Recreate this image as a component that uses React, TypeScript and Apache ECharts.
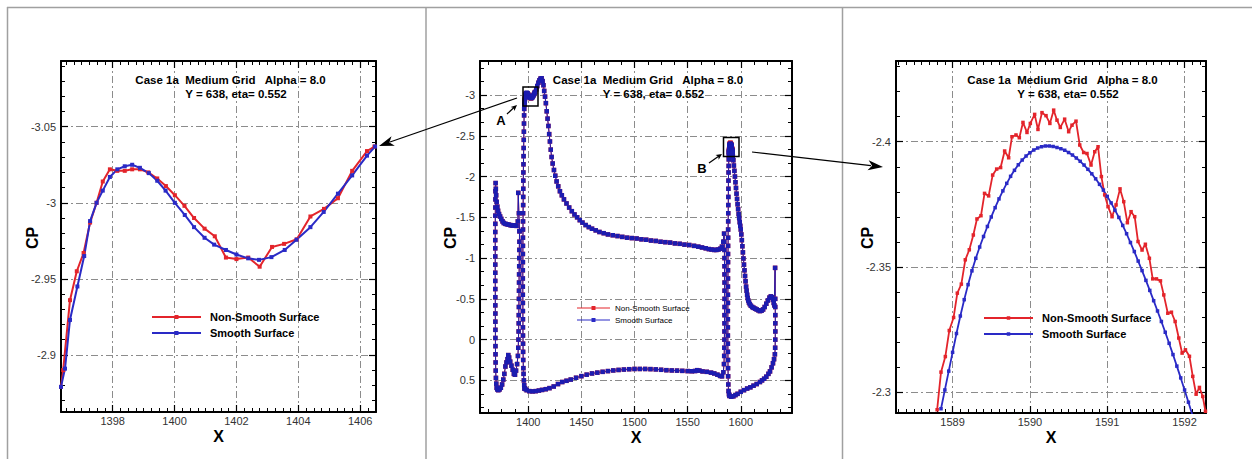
import React, { useEffect, useRef } from "react";
import * as echarts from "echarts";

// ---------------- Panel A (left zoom, box A) ----------------
const aRedX = [1396.33, 1396.40, 1396.62, 1396.84, 1397.06, 1397.27, 1397.48, 1397.68, 1397.91, 1398.15, 1398.39, 1398.63, 1398.88, 1399.15, 1399.44, 1399.72, 1400.01, 1400.32, 1400.63, 1400.97, 1401.30, 1401.66, 1402.00, 1402.38, 1402.75, 1403.15, 1403.54, 1403.95, 1404.39, 1404.83, 1405.28, 1405.74, 1406.22, 1406.46];
const aRedCp = [-2.879, -2.890, -2.936, -2.955, -2.967, -2.987, -3.000, -3.014, -3.022, -3.021, -3.021, -3.022, -3.022, -3.020, -3.016, -3.011, -3.005, -2.998, -2.990, -2.983, -2.978, -2.964, -2.963, -2.964, -2.958, -2.971, -2.973, -2.976, -2.991, -2.996, -3.003, -3.021, -3.034, -3.037];
const aBlueX = [1396.33, 1396.46, 1396.62, 1396.86, 1397.08, 1397.27, 1397.48, 1397.68, 1397.91, 1398.15, 1398.39, 1398.63, 1398.88, 1399.17, 1399.44, 1399.71, 1400.01, 1400.33, 1400.63, 1400.97, 1401.28, 1401.66, 1402.00, 1402.38, 1402.73, 1403.13, 1403.56, 1403.94, 1404.39, 1404.82, 1405.28, 1405.74, 1406.22, 1406.48];
const aBlueCp = [-2.879, -2.891, -2.923, -2.945, -2.965, -2.988, -3.000, -3.008, -3.017, -3.022, -3.024, -3.025, -3.023, -3.0195, -3.0145, -3.008, -3.000, -2.992, -2.984, -2.977, -2.9725, -2.969, -2.966, -2.9635, -2.9625, -2.9643, -2.969, -2.9757, -2.984, -2.994, -3.006, -3.018, -3.031, -3.037];

// ---------------- Panel B (right zoom, box B) ----------------
const bRedX = [1588.80, 1588.85, 1588.906, 1588.957, 1589.013, 1589.061, 1589.113, 1589.164, 1589.216, 1589.268, 1589.315, 1589.367, 1589.413, 1589.466, 1589.518, 1589.570, 1589.621, 1589.673, 1589.725, 1589.768, 1589.820, 1589.863, 1589.910, 1589.962, 1590.005, 1590.061, 1590.104, 1590.156, 1590.208, 1590.258, 1590.307, 1590.350, 1590.393, 1590.449, 1590.501, 1590.544, 1590.596, 1590.644, 1590.695, 1590.738, 1590.790, 1590.838, 1590.881, 1590.924, 1590.967, 1591.010, 1591.062, 1591.114, 1591.165, 1591.213, 1591.260, 1591.308, 1591.355, 1591.398, 1591.450, 1591.493, 1591.545, 1591.588, 1591.636, 1591.688, 1591.731, 1591.783, 1591.830, 1591.878, 1591.925, 1591.968, 1592.011, 1592.063, 1592.106, 1592.149, 1592.192, 1592.235, 1592.270];
const bRedCp = [-2.2931, -2.3081, -2.3143, -2.3247, -2.3299, -2.3396, -2.3432, -2.3529, -2.3569, -2.3628, -2.3692, -2.3705, -2.3794, -2.3784, -2.3867, -2.3891, -2.3897, -2.3963, -2.3936, -2.4020, -2.4027, -2.4016, -2.4077, -2.4037, -2.4073, -2.4109, -2.4049, -2.4116, -2.4104, -2.4073, -2.4126, -2.4086, -2.4057, -2.4090, -2.4040, -2.4066, -2.4082, -2.3987, -2.3957, -2.3953, -2.3907, -2.3960, -2.3980, -2.3861, -2.3788, -2.3741, -2.3701, -2.3748, -2.3812, -2.3761, -2.3677, -2.3721, -2.3701, -2.3602, -2.3568, -2.3591, -2.3535, -2.3453, -2.3453, -2.3445, -2.3389, -2.3316, -2.3320, -2.3283, -2.3217, -2.3157, -2.3170, -2.3144, -2.3064, -2.2993, -2.3020, -2.2984, -2.2925];
const bBlueX = [1588.85, 1588.90, 1588.95, 1589.00, 1589.05, 1589.10, 1589.15, 1589.20, 1589.25, 1589.30, 1589.35, 1589.40, 1589.45, 1589.50, 1589.55, 1589.60, 1589.65, 1589.70, 1589.75, 1589.80, 1589.85, 1589.90, 1589.95, 1590.00, 1590.05, 1590.10, 1590.15, 1590.20, 1590.25, 1590.30, 1590.35, 1590.40, 1590.45, 1590.50, 1590.55, 1590.60, 1590.65, 1590.70, 1590.75, 1590.80, 1590.85, 1590.90, 1590.95, 1591.00, 1591.05, 1591.10, 1591.15, 1591.20, 1591.25, 1591.30, 1591.35, 1591.40, 1591.45, 1591.50, 1591.55, 1591.60, 1591.65, 1591.70, 1591.75, 1591.80, 1591.85, 1591.90, 1591.95, 1592.00, 1592.05, 1592.10, 1592.15];
const bBlueCp = [-2.2935, -2.3010, -2.3085, -2.3160, -2.3235, -2.3305, -2.3370, -2.3430, -2.3485, -2.3535, -2.3580, -2.3622, -2.3662, -2.3700, -2.3737, -2.3772, -2.3804, -2.3834, -2.3862, -2.3886, -2.3908, -2.3927, -2.3943, -2.3956, -2.3967, -2.3975, -2.3980, -2.3983, -2.3983, -2.3981, -2.3977, -2.3972, -2.3966, -2.3957, -2.3947, -2.3935, -2.3922, -2.3907, -2.3890, -2.3872, -2.3852, -2.3830, -2.3807, -2.3782, -2.3756, -2.3727, -2.3698, -2.3666, -2.3633, -2.3598, -2.3562, -2.3524, -2.3486, -2.3447, -2.3407, -2.3366, -2.3325, -2.3283, -2.3240, -2.3196, -2.3151, -2.3105, -2.3058, -2.3010, -2.2961, -2.2911, -2.2860];

// ---------------- Full section (middle) ----------------
const slatX = [1391.8, 1391.2, 1390.6, 1390.2, 1389.0, 1387.5, 1386.0, 1384.5, 1383.0, 1381.5, 1380.0, 1378.5, 1377.0, 1375.8, 1374.6, 1373.5, 1372.5, 1371.6, 1370.9, 1370.3, 1369.8, 1369.5, 1369.3,
  1369.15, 1369.1, 1369.05, 1369.0, 1369.0, 1368.95, 1368.95, 1368.95, 1368.95, 1368.95, 1368.95, 1368.95, 1369.0, 1369.0, 1369.0, 1369.05, 1369.05, 1369.1, 1369.1, 1369.15, 1369.2, 1369.3, 1369.4, 1369.6, 1369.9, 1370.3, 1370.8,
  1371.8, 1373.0, 1374.2, 1375.4, 1376.5, 1377.5, 1378.5, 1379.5, 1380.5, 1381.2, 1382.0, 1383.0, 1384.2, 1385.4, 1386.5, 1387.5, 1388.5, 1389.5, 1390.3,
  1390.6, 1390.8, 1390.95, 1391.05, 1391.1, 1391.2, 1391.25, 1391.3, 1391.35, 1391.4, 1391.5, 1391.55, 1391.6, 1391.7, 1391.8];
const slatCp = [-1.33, -1.55, -1.80, -1.45, -1.395, -1.40, -1.40, -1.40, -1.405, -1.41, -1.415, -1.42, -1.43, -1.45, -1.48, -1.51, -1.54, -1.58, -1.63, -1.69, -1.77, -1.85, -1.92,
  -1.82, -1.72, -1.62, -1.52, -1.42, -1.32, -1.22, -1.12, -1.02, -0.92, -0.82, -0.72, -0.62, -0.52, -0.42, -0.32, -0.22, -0.12, -0.02, 0.08, 0.18, 0.28, 0.38, 0.47, 0.54, 0.59, 0.61,
  0.62, 0.61, 0.59, 0.55, 0.49, 0.42, 0.33, 0.28, 0.24, 0.19, 0.22, 0.27, 0.32, 0.37, 0.42, 0.43, 0.38, 0.30, 0.20,
  0.10, 0.0, -0.1, -0.2, -0.3, -0.4, -0.5, -0.6, -0.7, -0.8, -0.9, -1.0, -1.1, -1.2, -1.33];

const mainLeX = [1396.6, 1396.2, 1395.9, 1395.6, 1395.4, 1395.25, 1395.15, 1395.1, 1395.05, 1395.0, 1395.0, 1394.95, 1394.95, 1394.9, 1394.9, 1394.9, 1394.9, 1394.95, 1394.95, 1395.0, 1395.0, 1395.05, 1395.1, 1395.15, 1395.2, 1395.25, 1395.3, 1395.35, 1395.4, 1395.5, 1395.6, 1395.7, 1395.8, 1395.9, 1396.0, 1396.1, 1396.2];
const mainLeCp = [0.60, 0.56, 0.50, 0.42, 0.35, 0.25, 0.15, 0.05, -0.05, -0.15, -0.25, -0.35, -0.45, -0.55, -0.65, -0.75, -0.85, -0.95, -1.05, -1.15, -1.25, -1.35, -1.45, -1.55, -1.65, -1.75, -1.85, -1.95, -2.05, -2.15, -2.25, -2.35, -2.45, -2.55, -2.65, -2.75, -2.83];
const mainRestX = [1407.5, 1408.5, 1409.5, 1410.5, 1411.5, 1412.6, 1413.5, 1414.3, 1415.0, 1415.8, 1416.6, 1417.4, 1418.2, 1419.0, 1419.7, 1420.4, 1421.2, 1422.0, 1423.0, 1424.2, 1425.4, 1426.7, 1428.2, 1429.8, 1431.6, 1433.6, 1436.0, 1438.5, 1441.0, 1443.5, 1446.0, 1448.5, 1451.0, 1454.0, 1457.0, 1460.0, 1463.5, 1467.0, 1471.0, 1475.0, 1479.5, 1484.0, 1488.5, 1493.0, 1497.5, 1502.0, 1506.5, 1511.0, 1515.5, 1520.0, 1524.5, 1529.0, 1533.5, 1538.0, 1542.5, 1547.0, 1551.5, 1556.0, 1560.0, 1563.5, 1567.0, 1570.0, 1572.5, 1575.0, 1577.0, 1579.0, 1580.8, 1582.3, 1583.5, 1584.3,
  1584.5, 1584.6, 1584.65, 1584.7, 1584.7, 1584.75, 1584.75, 1584.75, 1584.75, 1584.7, 1584.7, 1584.65, 1584.6, 1584.5, 1584.4, 1584.2, 1583.6,
  1582.3, 1580.5, 1578.0, 1575.0, 1572.0, 1568.0, 1564.0, 1561.0, 1559.0, 1557.0, 1554.0, 1550.0, 1545.0, 1540.0, 1535.0, 1530.0, 1525.0, 1520.0, 1515.0, 1510.0, 1505.0, 1500.0, 1495.0, 1490.0, 1485.0, 1480.0, 1475.0, 1470.0, 1465.0, 1460.0, 1455.0, 1450.0, 1445.0, 1440.0, 1436.0, 1432.0, 1428.0, 1424.0, 1420.0, 1416.5, 1413.0, 1410.0, 1407.0, 1404.0, 1401.0, 1398.5, 1397.3, 1396.6];
const mainRestCp = [-3.07, -3.11, -3.15, -3.18, -3.20, -3.205, -3.17, -3.12, -3.05, -2.98, -2.90, -2.80, -2.71, -2.62, -2.52, -2.43, -2.33, -2.24, -2.16, -2.08, -2.01, -1.94, -1.88, -1.82, -1.77, -1.72, -1.67, -1.62, -1.575, -1.535, -1.50, -1.465, -1.435, -1.405, -1.38, -1.36, -1.34, -1.32, -1.305, -1.29, -1.28, -1.27, -1.26, -1.25, -1.245, -1.24, -1.23, -1.225, -1.215, -1.21, -1.20, -1.195, -1.19, -1.18, -1.175, -1.165, -1.16, -1.15, -1.14, -1.13, -1.12, -1.11, -1.105, -1.10, -1.10, -1.105, -1.115, -1.14, -1.20, -1.30,
  -1.2, -1.1, -1.0, -0.9, -0.8, -0.7, -0.6, -0.5, -0.4, -0.3, -0.2, -0.1, 0.0, 0.1, 0.2, 0.3, 0.40,
  0.45, 0.445, 0.43, 0.415, 0.405, 0.395, 0.39, 0.38, 0.375, 0.385, 0.388, 0.386, 0.383, 0.38, 0.378, 0.375, 0.37, 0.365, 0.362, 0.36, 0.36, 0.36, 0.363, 0.367, 0.372, 0.378, 0.386, 0.395, 0.405, 0.415, 0.43, 0.448, 0.468, 0.49, 0.505, 0.52, 0.545, 0.575, 0.595, 0.608, 0.617, 0.625, 0.632, 0.635, 0.632, 0.62, 0.605, 0.60];

const flapLeX = [1589.5, 1588.9, 1588.5, 1588.25, 1588.1, 1588.0, 1587.95, 1587.9, 1587.85, 1587.85, 1587.85, 1587.85, 1587.85, 1587.9, 1587.9, 1587.9, 1587.95, 1587.95, 1588.0, 1588.0, 1588.05, 1588.1, 1588.1, 1588.15, 1588.2, 1588.25, 1588.3, 1588.35, 1588.4, 1588.5, 1588.6, 1588.7, 1588.78];
const flapLeCp = [0.69, 0.67, 0.63, 0.55, 0.45, 0.35, 0.25, 0.15, 0.05, -0.05, -0.15, -0.25, -0.35, -0.45, -0.55, -0.65, -0.75, -0.85, -0.95, -1.05, -1.15, -1.25, -1.35, -1.45, -1.55, -1.65, -1.75, -1.85, -1.95, -2.05, -2.13, -2.21, -2.26];
const flapRestX = [1592.5, 1593.0, 1593.5, 1594.0, 1594.5, 1595.0, 1595.5, 1596.0, 1596.5, 1597.0, 1597.5, 1598.0, 1598.5, 1599.0, 1599.5, 1600.0, 1600.5, 1601.0, 1601.5, 1602.0, 1602.5, 1603.0, 1603.5, 1604.0, 1604.5, 1605.0, 1605.5, 1606.0, 1606.5, 1607.0, 1607.7, 1608.5, 1609.5, 1610.7, 1612.0, 1613.5, 1615.0, 1616.5, 1618.0, 1619.5, 1621.0, 1622.5, 1624.0, 1625.5, 1627.0, 1628.3, 1629.4, 1630.3, 1631.0, 1631.6,
  1632.3, 1632.4, 1632.45, 1632.5, 1632.5, 1632.5, 1632.45, 1632.35, 1632.1,
  1631.3, 1630.3, 1629.0, 1627.5, 1626.0, 1624.0, 1622.0, 1620.0, 1618.0, 1615.0, 1612.0, 1609.0, 1606.0, 1603.0, 1600.0, 1597.0, 1595.0, 1593.0, 1591.0, 1589.5];
const flapRestCp = [-2.25, -2.20, -2.135, -2.07, -2.0, -1.93, -1.86, -1.79, -1.725, -1.66, -1.60, -1.54, -1.49, -1.44, -1.395, -1.35, -1.29, -1.22, -1.145, -1.07, -0.995, -0.92, -0.85, -0.78, -0.715, -0.65, -0.60, -0.55, -0.51, -0.48, -0.455, -0.435, -0.415, -0.40, -0.39, -0.38, -0.37, -0.36, -0.35, -0.355, -0.37, -0.40, -0.44, -0.48, -0.515, -0.53, -0.52, -0.49, -0.45, -0.42,
  -0.88, -0.50, -0.40, -0.30, -0.20, -0.10, 0.0, 0.10, 0.18,
  0.24, 0.29, 0.34, 0.39, 0.42, 0.455, 0.48, 0.50, 0.52, 0.545, 0.565, 0.585, 0.60, 0.62, 0.64, 0.665, 0.68, 0.695, 0.70, 0.69];

// ---------------- axes ----------------
const aXTicks = [1398, 1400, 1402, 1404, 1406];
const aYTicks = [-3.05, -3, -2.95, -2.9];
const fullXTicks = [1400, 1450, 1500, 1550, 1600];
const fullYTicks = [-3, -2.5, -2, -1.5, -1, -0.5, 0, 0.5];
const bXTicks = [1589, 1590, 1591, 1592];
const bYTicks = [-2.4, -2.35, -2.3];

const TITLE1 = "Case 1a  Medium Grid   Alpha = 8.0";
const TITLE2 = "Y = 638, eta= 0.552";
const NAME_RED = "Non-Smooth Surface";
const NAME_BLUE = "Smooth Surface";
const RED = "#e3242b";
const BLUE = "#2a2ac6";
const BLUE_MID = "#1c1cb0";
const FONT = '"Liberation Sans", Arial, Helvetica, sans-serif';

const pairs = (xs: number[], ys: number[]) => xs.map((x, i) => [x, ys[i]]);

function minorValues(min: number, max: number, step: number) {
  const out: number[] = [];
  const start = Math.ceil(min / step - 1e-9);
  for (let k = start; k * step <= max + 1e-9; k++) out.push(Math.round(k * step * 1e6) / 1e6);
  return out;
}

const panels = [
  { grid: { left: 61, top: 61, width: 315, height: 351 }, x: [1396.33, 1406.51], y: [-3.0932, -2.8625], xMajor: aXTicks, yMajor: aYTicks, xStep: 0.25, yStep: 0.01 },
  { grid: { left: 480, top: 61, width: 312, height: 352 }, x: [1354.6, 1648.2], y: [-3.417, 0.9], xMajor: fullXTicks, yMajor: fullYTicks, xStep: 12.5, yStep: 0.5 / 3 },
  { grid: { left: 896, top: 61, width: 310, height: 352 }, x: [1588.268, 1592.277], y: [-2.4322, -2.2918], xMajor: bXTicks, yMajor: bYTicks, xStep: 0.1, yStep: 0.01 },
];

function buildOption() {
  const grids: any[] = [];
  const xAxes: any[] = [];
  const yAxes: any[] = [];
  const labelStyle = { color: "#333", fontSize: 11, fontFamily: FONT, formatter: (v: number) => String(Math.round(v * 1000) / 1000) };
  const gridLine = { show: true, lineStyle: { color: "#8c8c8c", width: 1, type: [7, 3, 2, 3] } };
  const frame = { show: true, onZero: false, lineStyle: { color: "#000", width: 2 } };
  const noLine = { show: false, onZero: false };
  panels.forEach((p, g) => {
    grids.push({ ...p.grid, containLabel: false, outerBoundsMode: "none", show: false });
    const xMinor = minorValues(p.x[0], p.x[1], p.xStep);
    const yMinor = minorValues(p.y[0], p.y[1], p.yStep);
    const xb = { type: "value", gridIndex: g, min: p.x[0], max: p.x[1] };
    const yb = { type: "value", gridIndex: g, min: p.y[0], max: p.y[1], inverse: true };
    const majT = (vals: number[]) => ({ show: true, inside: true, length: 7, customValues: vals, lineStyle: { color: "#000", width: 1.2 } });
    const minT = (vals: number[]) => ({ show: true, inside: true, length: 4, customValues: vals, lineStyle: { color: "#000", width: 1 } });
    xAxes.push(
      { ...xb, position: "bottom", axisLine: frame, axisTick: majT(p.xMajor), axisLabel: { show: true, customValues: p.xMajor, margin: 3, ...labelStyle }, splitLine: gridLine },
      { ...xb, position: "bottom", axisLine: noLine, axisTick: minT(xMinor), axisLabel: { show: false }, splitLine: { show: false } },
      { ...xb, position: "top", axisLine: frame, axisTick: majT(p.xMajor), axisLabel: { show: false }, splitLine: { show: false } },
      { ...xb, position: "top", axisLine: noLine, axisTick: minT(xMinor), axisLabel: { show: false }, splitLine: { show: false } }
    );
    yAxes.push(
      { ...yb, position: "left", axisLine: frame, axisTick: majT(p.yMajor), axisLabel: { show: true, customValues: p.yMajor, margin: 5, ...labelStyle }, splitLine: gridLine },
      { ...yb, position: "left", axisLine: noLine, axisTick: minT(yMinor), axisLabel: { show: false }, splitLine: { show: false } },
      { ...yb, position: "right", axisLine: frame, axisTick: majT(p.yMajor), axisLabel: { show: false }, splitLine: { show: false } },
      { ...yb, position: "right", axisLine: noLine, axisTick: minT(yMinor), axisLabel: { show: false }, splitLine: { show: false } }
    );
  });

  const zoomSeries = (name: string, color: string, data: number[][], idx: number, lw: number, ss: number) => ({
    name, type: "line", xAxisIndex: idx, yAxisIndex: idx, data, symbol: "rect", symbolSize: ss, clip: true,
    lineStyle: { color, width: lw }, itemStyle: { color }, emphasis: { disabled: true },
  });
  const midSeries = (name: string, color: string, data: number[][]) => ({
    name, type: "line", xAxisIndex: 4, yAxisIndex: 4, data, symbol: "rect", symbolSize: 4.5, clip: true,
    lineStyle: { color, width: 1 }, itemStyle: { color }, emphasis: { disabled: true },
  });

  const slat = pairs(slatX, slatCp);
  const mainLe = pairs(mainLeX, mainLeCp);
  const mainRest = pairs(mainRestX, mainRestCp);
  const flapLe = pairs(flapLeX, flapLeCp);
  const flapRest = pairs(flapRestX, flapRestCp);

  const series = [
    zoomSeries(NAME_RED, RED, pairs(aRedX, aRedCp), 0, 2, 4),
    zoomSeries(NAME_BLUE, BLUE, pairs(aBlueX, aBlueCp), 0, 2, 4),
    midSeries(NAME_RED, RED, slat),
    midSeries(NAME_RED, RED, [...mainLe, ...pairs(aRedX, aRedCp), ...mainRest]),
    midSeries(NAME_RED, RED, [...flapLe, ...pairs(bRedX, bRedCp), ...flapRest]),
    midSeries(NAME_BLUE, BLUE_MID, slat),
    midSeries(NAME_BLUE, BLUE_MID, [...mainLe, ...pairs(aBlueX, aBlueCp), ...mainRest]),
    midSeries(NAME_BLUE, BLUE_MID, [...flapLe, ...pairs(bBlueX, bBlueCp), ...flapRest]),
    zoomSeries(NAME_RED, RED, pairs(bRedX, bRedCp), 8, 1.8, 3.5),
    zoomSeries(NAME_BLUE, BLUE, pairs(bBlueX, bBlueCp), 8, 1.8, 3.5),
  ];

  const txt = (x: number, y: number, text: string, size: number, weight: string, align = "center", rotation = 0) => ({
    type: "text", x, y, rotation, z: 100,
    style: { text, fill: "#000", fontSize: size, fontWeight: weight, fontFamily: FONT, textAlign: align, align, textVerticalAlign: "middle", verticalAlign: "middle" },
  });
  const ln = (x1: number, y1: number, x2: number, y2: number, stroke: string, lineWidth: number) => ({
    type: "line", z: 100, shape: { x1, y1, x2, y2 }, style: { stroke, lineWidth },
  });
  const head = (fx: number, fy: number, tx: number, ty: number, L: number, W: number, notch: number) => {
    const dx = tx - fx, dy = ty - fy, len = Math.hypot(dx, dy);
    const ux = dx / len, uy = dy / len, px = -uy, py = ux;
    const bx = tx - ux * L, by = ty - uy * L;
    return {
      type: "polygon", z: 101,
      shape: { points: [[tx, ty], [bx + px * W, by + py * W], [tx - ux * (L - notch), ty - uy * (L - notch)], [bx - px * W, by - py * W]] },
      style: { fill: "#000" },
    };
  };
  const legend = (x1: number, x2: number, yR: number, yB: number, tx: number, lw: number, ms: number, fs: number, fw: string) => [
    ln(x1, yR, x2, yR, RED, lw),
    { type: "rect", z: 101, shape: { x: (x1 + x2) / 2 - ms / 2, y: yR - ms / 2, width: ms, height: ms }, style: { fill: RED } },
    ln(x1, yB, x2, yB, BLUE, lw),
    { type: "rect", z: 101, shape: { x: (x1 + x2) / 2 - ms / 2, y: yB - ms / 2, width: ms, height: ms }, style: { fill: BLUE } },
    txt(tx, yR, NAME_RED, fs, fw, "left"),
    txt(tx, yB, NAME_BLUE, fs, fw, "left"),
  ];

  const graphic = [
    ln(7, 7.5, 1252, 7.5, "#a0a0a0", 1.5),
    ln(7.5, 7, 7.5, 459, "#a0a0a0", 1.5),
    ln(426, 7, 426, 459, "#a0a0a0", 1.5),
    ln(842.5, 7, 842.5, 459, "#a0a0a0", 1.5),
    // titles
    txt(230.5, 80, TITLE1, 11.5, "bold"), txt(236, 94, TITLE2, 11.5, "bold"),
    txt(648, 80, TITLE1, 11.5, "bold"), txt(653.5, 94, TITLE2, 11.5, "bold"),
    txt(1062.5, 80, TITLE1, 11.5, "bold"), txt(1068, 94, TITLE2, 11.5, "bold"),
    // axis names
    txt(32, 238, "CP", 16, "bold", "center", Math.PI / 2),
    txt(450, 238, "CP", 16, "bold", "center", Math.PI / 2),
    txt(867, 238, "CP", 16, "bold", "center", Math.PI / 2),
    txt(218.5, 436, "X", 16, "bold"),
    txt(636, 437, "X", 16, "bold"),
    txt(1051, 437, "X", 16, "bold"),
    // legends
    ...legend(152, 201, 317, 333, 210, 2, 4, 11, "bold"),
    ...legend(577, 610, 308, 320, 615, 1, 4, 8, "normal"),
    ...legend(984, 1033, 318, 334, 1042, 2, 3.5, 11, "bold"),
    // boxes A, B
    { type: "rect", z: 101, shape: { x: 523, y: 87, width: 15, height: 19 }, style: { fill: "none", stroke: "#000", lineWidth: 1.5 } },
    { type: "rect", z: 101, shape: { x: 723.5, y: 137.5, width: 15.5, height: 19 }, style: { fill: "none", stroke: "#000", lineWidth: 1.5 } },
    txt(501, 120, "A", 13, "bold"),
    txt(702, 168, "B", 13, "bold"),
    ln(507, 114, 514, 107.5, "#000", 1.2), head(507, 114, 517, 105, 6, 2.8, 1.5),
    ln(709, 163, 719, 156, "#000", 1.2), head(709, 163, 722, 154, 6, 2.8, 1.5),
    // long arrows
    ln(517, 98, 390, 142, "#000", 1.2), head(517, 98, 379, 146, 15, 5, 4),
    ln(752, 152, 871, 165.6, "#000", 1.2), head(752, 152, 883, 167, 15, 5, 4),
  ];

  return {
    animation: false,
    backgroundColor: "#ffffff",
    grid: grids,
    xAxis: xAxes,
    yAxis: yAxes,
    series,
    graphic,
  };
}

export default function App() {
  const ref = useRef<HTMLDivElement>(null);
  useEffect(() => {
    const chart = echarts.init(ref.current as HTMLDivElement, null, { renderer: "svg" });
    chart.setOption(buildOption() as any);
    return () => chart.dispose();
  }, []);
  return (
    <div
      ref={ref}
      style={{ position: "absolute", left: 0, top: 0, width: 1252, height: 459, background: "#fff" }}
    />
  );
}
